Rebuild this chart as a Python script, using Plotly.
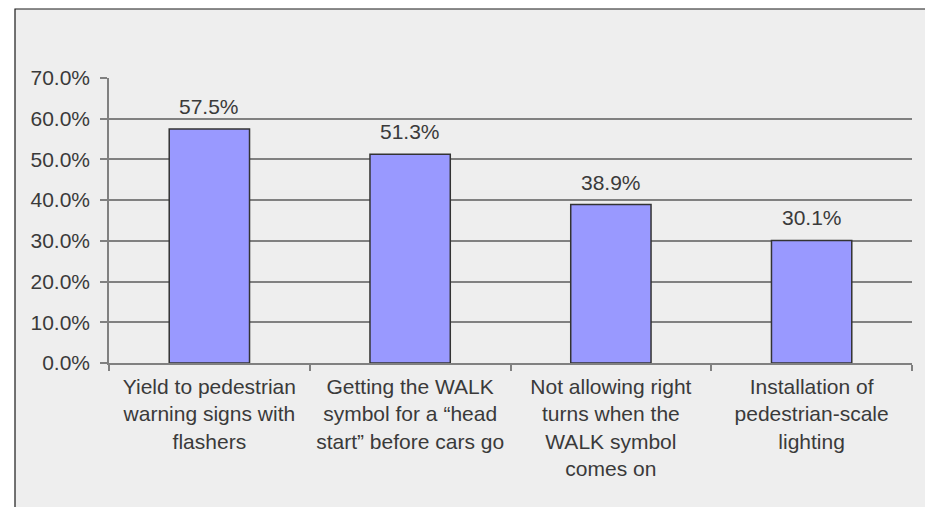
import plotly.graph_objects as go

# the page has the browser's default 8px body margin, so the figure is
# shrunk and shifted by that much to land on the reference pixels
PAD = 8
W, H = 933 - PAD, 507 - PAD

categories = [
    "Yield to pedestrian<br>warning signs with<br>flashers",
    "Getting the WALK<br>symbol for a \u201chead<br>start\u201d before cars go",
    "Not allowing right<br>turns when the<br>WALK symbol<br>comes on",
    "Installation of<br>pedestrian-scale<br>lighting",
]
shares = [0.575, 0.513, 0.389, 0.301]
value_labels = ["57.5%", "51.3%", "38.9%", "30.1%"]

# plot area in page pixels
left, right, top, bottom = 109, 912, 78, 363
pw, ph = right - left, bottom - top

def px_x(x):
    return (x - left) / pw

def px_y(y):
    return (bottom - y) / ph

font = dict(family="Liberation Sans, Arial, sans-serif", size=21, color="#3a3a3a")
grid = "#808080"

fig = go.Figure()
fig.add_trace(go.Bar(
    x=categories, y=shares, width=0.4,
    marker=dict(color="#9999FF", line=dict(color="#333333", width=1.5)),
    hoverinfo="skip",
))
for c, v, t in zip(categories, shares, value_labels):
    fig.add_annotation(x=c, y=v, text=t, showarrow=False, yanchor="bottom",
                       yshift=9, font=font)

# grey chart frame
fig.add_shape(type="rect", xref="paper", yref="paper", layer="below",
              x0=px_x(15), x1=px_x(926), y0=px_y(520), y1=px_y(9),
              fillcolor="#EEEEEE", line=dict(color="#1a1a1a", width=1.2))

fig.update_layout(
    width=W, height=H,
    margin=dict(l=left - PAD, r=W + PAD - right, t=top - PAD, b=H + PAD - bottom),
    paper_bgcolor="white", plot_bgcolor="rgba(0,0,0,0)",
    font=font, showlegend=False, bargap=0.6,
)
fig.update_yaxes(
    range=[0, 0.7], dtick=0.1, tickformat=".1%",
    showgrid=True, gridcolor=grid, gridwidth=1.5,
    showline=True, linecolor=grid, linewidth=1.5,
    ticks="outside", ticklen=7, tickcolor=grid, tickwidth=1.5,
    zeroline=False, fixedrange=True, ticklabelstandoff=6,
)
fig.update_xaxes(
    showline=True, linecolor=grid, linewidth=1.5,
    ticks="outside", tickson="boundaries", ticklen=6, tickcolor=grid, tickwidth=1.5,
    showgrid=False, fixedrange=True, ticklabelstandoff=4,
)

fig.write_html("out.html")
